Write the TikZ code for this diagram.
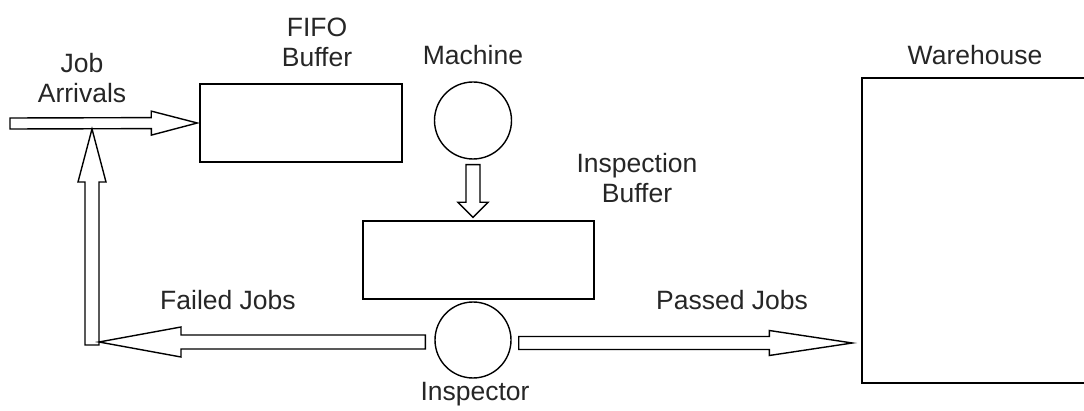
\documentclass[tikz,border=0pt]{standalone}
\usepackage{fontspec}
\setmainfont{Liberation Sans}
\usepackage{tikz}
\usetikzlibrary{calc}

\begin{document}
\begin{tikzpicture}[x=1pt, y=-1pt, line width=1.4pt,
		buffer/.style={rectangle, draw, minimum height=78pt, inner sep=0pt},
		server/.style={circle, draw, minimum size=77pt, inner sep=0pt},
		tag/.style={font=\fontsize{26.5}{30}\selectfont, text=black!85, align=center, anchor=base, inner sep=0pt},
		blockarrow/.style n args={3}{fill=white, to path={
			($(\tikztostart)!#2!90:(\tikztotarget)$)
			-- ($(\tikztotarget)!#1!(\tikztostart)!#2!90:(\tikztotarget)$)
			-- ($(\tikztotarget)!#1!(\tikztostart)!#3!90:(\tikztotarget)$)
			-- (\tikztotarget)
			-- ($(\tikztotarget)!#1!(\tikztostart)!#3!-90:(\tikztotarget)$)
			-- ($(\tikztotarget)!#1!(\tikztostart)!#2!-90:(\tikztotarget)$)
			-- ($(\tikztostart)!#2!-90:(\tikztotarget)$) -- cycle}}]
		\useasboundingbox (0,0) rectangle (1084,411);
		\node[buffer, minimum width=202pt] at (301,123) (fifo) {};
		\node[server] at (473,120.5) (mach) {};
		\node[buffer, minimum width=231pt] at (478.5,260) (ibuf) {};
		\node[server, minimum size=76pt] at (473,340) (insp) {};
		\node[buffer, minimum width=240pt, minimum height=305pt] at (982,230.5) (wh) {};
		\coordinate (src) at (10,123.5);
		\coordinate (join) at (92,129);
		\coordinate (back) at (92,345);
		% base of a two-line tag is its last line
		\node[tag] at (82,103) (arrtxt) {Job\\Arrivals};
		\node[tag] at (317,67) (fifotxt) {FIFO\\Buffer};
		\node[tag] at (473,65) (machtxt) {Machine};
		\node[tag] at (637,203) (ibuftxt) {Inspection\\Buffer};
		\node[tag] at (228,310) (failtxt) {Failed Jobs};
		\node[tag] at (732,310) (passtxt) {Passed Jobs};
		\node[tag] at (475,400) (insptxt) {Inspector};
		\node[tag] at (975,65) (whtxt) {Warehouse};
		\draw[blockarrow={46pt}{5.5pt}{12pt}] (src) to ([xshift=-2pt]fifo.west);
		\draw[blockarrow={53pt}{7pt}{14pt}] (back) to (join);
		\draw[blockarrow={15pt}{7pt}{15pt}] ([yshift=-5pt]mach.south) to ([yshift=3pt]mach.south |- ibuf.north);
		\draw[blockarrow={82pt}{7pt}{15pt}] ([shift={(-9pt,-2pt)}]insp.west) to ([shift={(7pt,3pt)}]back);
		\draw[blockarrow={83pt}{6.5pt}{12.5pt}] ([shift={(7pt,-3pt)}]insp.east) to ([shift={(-9pt,-3pt)}]insp.east -| wh.west);
	\end{tikzpicture}
\end{document}
